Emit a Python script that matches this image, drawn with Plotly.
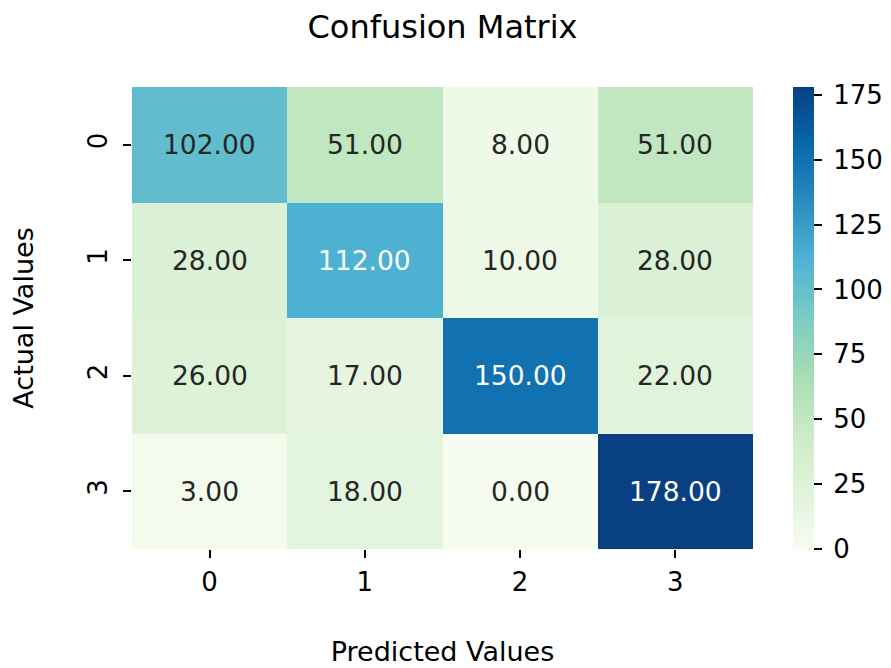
import plotly.graph_objects as go

labels = ["0", "1", "2", "3"]
matrix = [
    [102, 51, 8, 51],
    [28, 112, 10, 28],
    [26, 17, 150, 22],
    [3, 18, 0, 178],
]
cbar_ticks = [0, 25, 50, 75, 100, 125, 150, 175]

FONT = "DejaVu Sans"
zmax = max(max(r) for r in matrix)
zmin = min(min(r) for r in matrix)

fig = go.Figure()
fig.add_trace(go.Heatmap(
    z=matrix, x=labels, y=labels,
    colorscale="GnBu", zmin=zmin, zmax=zmax,
    showscale=True,
    colorbar=dict(
        x=1.0644, xanchor="left", xref="paper",
        y=0.5, yanchor="middle", len=1.0, lenmode="fraction",
        thickness=21, thicknessmode="pixels",
        outlinewidth=0,
        tickvals=cbar_ticks, ticktext=["\u2005" + str(t) for t in cbar_ticks],
        ticks="outside", ticklen=8, tickwidth=1.5, tickcolor="black",
        tickfont=dict(family=FONT, size=26, color="black"),
        ypad=0, xpad=0,
    ),
    hoverongaps=False,
))

# cell annotations
for i, row in enumerate(matrix):
    for j, v in enumerate(row):
        color = "white" if v > 105 else "#262626"
        fig.add_annotation(
            x=labels[j], y=labels[i], text=f"{v:.2f}", showarrow=False,
            font=dict(family=FONT, size=26.5, color=color),
        )

fig.update_layout(
    width=891, height=668,
    margin=dict(l=132, r=138, t=87, b=119, autoexpand=False),
    paper_bgcolor="white", plot_bgcolor="white",
    title=dict(text="Confusion Matrix", x=0.5, xref="paper", xanchor="center",
               y=1 - 27 / 668, yref="container", yanchor="middle",
               font=dict(family=FONT, size=32, color="black")),
    font=dict(family=FONT, color="black"),
)
fig.update_xaxes(
    type="category", showgrid=False, zeroline=False, showline=False, automargin=False,
    ticks="outside", ticklen=8, tickwidth=1.5, tickcolor="black",
    ticklabelstandoff=2,
    tickfont=dict(family=FONT, size=26, color="black"),
    title=dict(text="Predicted Values", font=dict(family=FONT, size=27, color="black"), standoff=45),
)
fig.update_yaxes(
    type="category", autorange="reversed", showgrid=False, zeroline=False, showline=False,
    automargin=False,
    ticks="outside", ticklen=8, tickwidth=1.5, tickcolor="black", tickangle=-90,
    ticklabelstandoff=6,
    tickfont=dict(family=FONT, size=26, color="black"),
    title=dict(text="Actual Values", font=dict(family=FONT, size=27, color="black"), standoff=41),
)

fig.write_html("out.html", post_script="document.body.style.margin='0';",
               config={"displayModeBar": False})
